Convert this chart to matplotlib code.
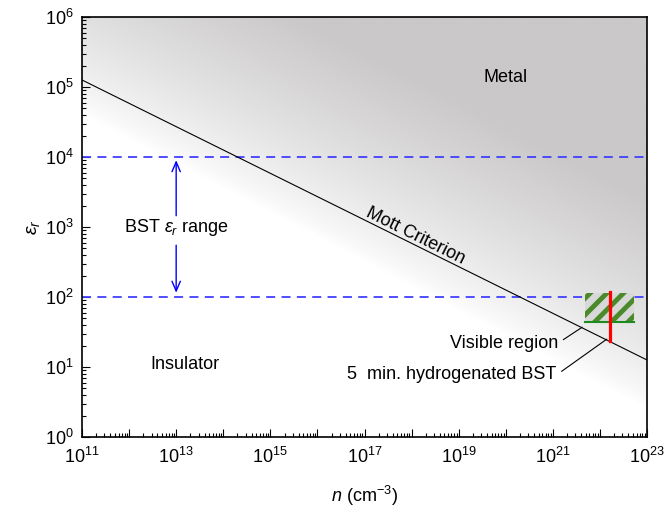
import numpy as np
import matplotlib
matplotlib.use('Agg')
import matplotlib.pyplot as plt
from matplotlib.patches import Rectangle
from matplotlib.ticker import LogLocator, NullFormatter

plt.rcParams['font.family'] = ['Liberation Sans', 'DejaVu Sans']
plt.rcParams['mathtext.fontset'] = 'custom'
plt.rcParams['mathtext.rm'] = 'Liberation Sans'
plt.rcParams['mathtext.it'] = 'Liberation Sans:italic'
plt.rcParams['mathtext.bf'] = 'Liberation Sans:bold'
plt.rcParams['hatch.linewidth'] = 3.5

# Mott criterion line end points (n in cm^-3, eps_r)
mott_n = [1e11, 1e23]
mott_eps = [1.26e5, 12.6]

# BST eps_r range
bst_range = [1e2, 1e4]
arrow_n = 1e13
arrow_up = [1.45e3, 9e3]
arrow_down = [5.5e2, 1.15e2]

# visible region box and 5 min hydrogenated sample
visible_n = [4.8e21, 5.3e22]
visible_eps = [44, 115]
h5_n = 1.6e22
h5_eps = [23.5, 117]

fig = plt.figure(figsize=(6.65, 5.17), dpi=100)
ax = fig.add_axes([82/665, 80/517, 565/665, 420/517])
ax.set_xscale('log')
ax.set_yscale('log')
ax.set_xlim(1e11, 1e23)
ax.set_ylim(1e0, 1e6)

# grey gradient towards the metal side
u, v = np.meshgrid(np.linspace(0, 1, 400), np.linspace(0, 1, 400))
s = 0.7 * u + v
d = np.clip((s - 0.77) / 0.5, 0, 1) ** 0.75
white = np.array([1.0, 1.0, 1.0])
grey = np.array([202, 200, 201]) / 255
img = white[None, None, :] * (1 - d[..., None]) + grey[None, None, :] * d[..., None]
ax.imshow(img, extent=[0, 1, 0, 1], transform=ax.transAxes, origin='lower',
          aspect='auto', zorder=0, interpolation='bilinear')

ax.plot(mott_n, mott_eps, color='black', lw=0.8, zorder=3)

for e in bst_range:
    ax.axhline(e, color='#4040ff', lw=1.3, dashes=(5, 3.5), zorder=2)

ap = dict(arrowstyle='->,head_length=0.7,head_width=0.3', color='#0000ff', lw=1.0,
          shrinkA=0, shrinkB=0)
ax.annotate('', xy=(arrow_n, arrow_up[1]), xytext=(arrow_n, arrow_up[0]), arrowprops=ap)
ax.annotate('', xy=(arrow_n, arrow_down[1]), xytext=(arrow_n, arrow_down[0]), arrowprops=ap)
ax.text(arrow_n, 1e3, r'BST $\varepsilon_r$ range', ha='center', va='center', fontsize=13)

# visible region
rect = Rectangle((visible_n[0], visible_eps[0]), visible_n[1] - visible_n[0],
                 visible_eps[1] - visible_eps[0], facecolor='#d8d8d8',
                 edgecolor='#4a8a2a', hatch='//', lw=0, zorder=4)
ax.add_patch(rect)
ax.plot(visible_n, [visible_eps[0]] * 2, color='#1f8a1f', lw=1.5, zorder=5)
ax.plot([h5_n, h5_n], h5_eps, color='red', lw=2.3, zorder=6)

ax.text(1e20, 1.35e5, 'Metal', ha='center', va='center', fontsize=13)
ax.text(1.5e13, 10.7, 'Insulator', ha='center', va='center', fontsize=13)

# Mott criterion label along the line
p1 = ax.transData.transform((mott_n[0], mott_eps[0]))
p2 = ax.transData.transform((mott_n[1], mott_eps[1]))
ang = np.degrees(np.arctan2(p2[1] - p1[1], p2[0] - p1[0]))
ax.text(1e18, 1.26e5 * (1e7) ** (-1 / 3), 'Mott Criterion', rotation=ang,
        rotation_mode='anchor', ha='center', va='bottom', fontsize=13)

lp = dict(arrowstyle='-', color='black', lw=0.8, shrinkA=2, shrinkB=0, relpos=(1, 0.5))
ax.annotate('Visible region', xy=(4.2e21, 37), xytext=(1.3e21, 22),
            ha='right', va='center', fontsize=13, arrowprops=lp)
ax.annotate('5  min. hydrogenated BST', xy=(1.4e22, 25), xytext=(1.2e21, 7.7),
            ha='right', va='center', fontsize=13, arrowprops=lp)

ax.set_xticks([10.0 ** k for k in range(11, 24)])
ax.set_xticklabels([r'$10^{%d}$' % k if k % 2 == 1 else '' for k in range(11, 24)])
ax.set_yticks([10.0 ** k for k in range(0, 7)])
ax.set_yticklabels([r'$10^{%d}$' % k for k in range(0, 7)])
for axis in (ax.xaxis, ax.yaxis):
    axis.set_minor_locator(LogLocator(base=10, subs=np.arange(2, 10), numticks=200))
    axis.set_minor_formatter(NullFormatter())
ax.tick_params(which='both', direction='in', top=False, right=False, labelsize=13)
ax.tick_params(which='major', length=6, width=0.8)
ax.tick_params(which='minor', length=3, width=0.8)
ax.tick_params(axis='x', pad=7)
ax.tick_params(axis='y', pad=6)
for sp in ax.spines.values():
    sp.set_linewidth(1.2)

ax.set_xlabel(r'$n$ (cm$^{-3}$)', fontsize=13, labelpad=12)
ax.set_ylabel(r'$\varepsilon_r$', fontsize=14, labelpad=2)

fig.savefig('out.png', dpi=100)
